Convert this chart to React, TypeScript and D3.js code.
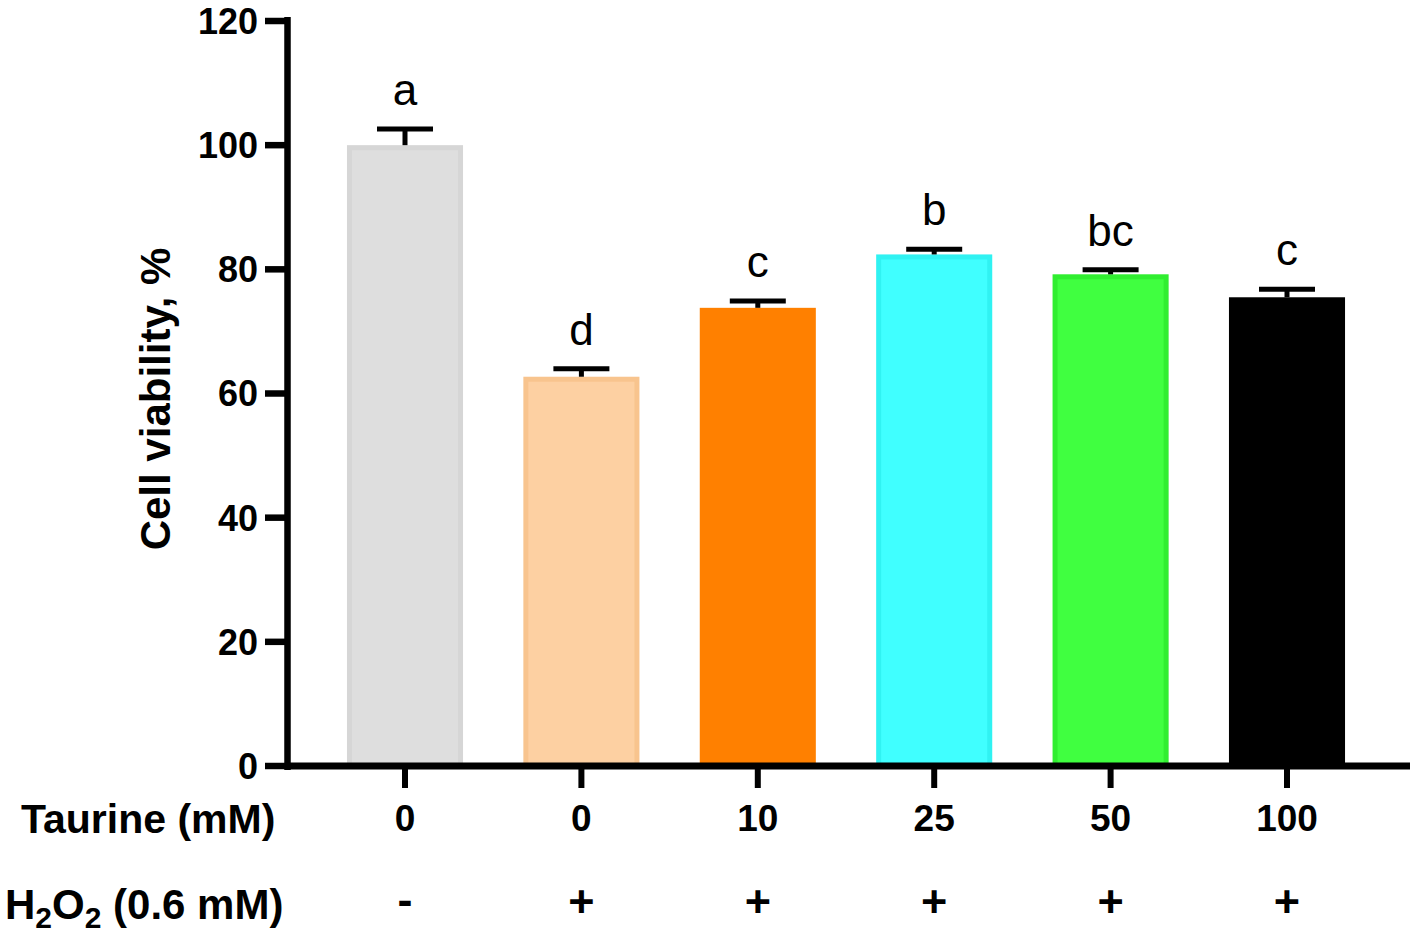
import React from "react";
import * as d3 from "d3";

const categories = ["g1", "g2", "g3", "g4", "g5", "g6"];
const taurineLabels = ["0", "0", "10", "25", "50", "100"];
const h2o2Labels = ["-", "+", "+", "+", "+", "+"];
const means = [100, 62.7, 73.8, 82.4, 79.2, 75.5];
const errors = [2.6, 1.3, 1.1, 0.85, 0.75, 1.3];
const letters = ["a", "d", "c", "b", "bc", "c"];
const fills = ["#dedede", "#fdd0a2", "#ff8000", "#40ffff", "#40ff40", "#000000"];
const strokes = ["#d6d6d6", "#f8c48e", "#ff8000", "#30f2f2", "#30ee30", "#000000"];
const yTicks = [0, 20, 40, 60, 80, 100, 120];

const W = 1417;
const H = 938;
const FONT = "'Liberation Sans', Arial, sans-serif";

export default function App() {
  const y = d3.scaleLinear().domain([0, 120]).range([766, 21]);
  const x = d3
    .scaleBand<string>()
    .domain(categories)
    .range([316.8, 1375.2])
    .paddingInner(0.342)
    .paddingOuter(0.171);
  const bw = x.bandwidth();
  const sw = 5;
  const axisX = 287.5;
  const capW = 56;

  return (
    <div style={{ position: "absolute", left: 0, top: 0 }}>
      <svg width={W} height={H} style={{ display: "block", background: "#fff" }}>
        {/* bars */}
        {categories.map((c, i) => {
          const x0 = x(c)!;
          const yt = y(means[i]);
          return (
            <rect
              key={"b" + c}
              x={x0 + sw / 2}
              y={yt + sw / 2}
              width={bw - sw}
              height={y(0) - yt - sw / 2}
              fill={fills[i]}
              stroke={strokes[i]}
              strokeWidth={sw}
            />
          );
        })}
        {/* error bars */}
        {categories.map((c, i) => {
          const cx = x(c)! + bw / 2;
          const yt = y(means[i]);
          const ye = y(means[i] + errors[i]);
          return (
            <g key={"e" + c}>
              <line x1={cx} x2={cx} y1={yt} y2={ye} stroke="#000" strokeWidth={5} />
              <line x1={cx - capW / 2} x2={cx + capW / 2} y1={ye} y2={ye} stroke="#000" strokeWidth={5} />
              <text
                x={cx}
                y={ye - 24}
                textAnchor="middle"
                fontFamily={FONT}
                fontSize={44}
                fill="#000"
              >
                {letters[i]}
              </text>
            </g>
          );
        })}
        {/* y axis */}
        <line x1={axisX} x2={axisX} y1={y(120) - 4} y2={y(0) + 4} stroke="#000" strokeWidth={6.5} />
        {yTicks.map((t) => (
          <g key={"yt" + t}>
            <line x1={265} x2={axisX} y1={y(t)} y2={y(t)} stroke="#000" strokeWidth={6.5} />
            <text
              x={258}
              y={y(t)}
              dy="0.36em"
              textAnchor="end"
              fontFamily={FONT}
              fontWeight="bold"
              fontSize={36}
              fill="#000"
            >
              {t}
            </text>
          </g>
        ))}
        {/* x axis */}
        <line x1={axisX} x2={1410} y1={y(0)} y2={y(0)} stroke="#000" strokeWidth={7} />
        {categories.map((c, i) => {
          const cx = x(c)! + bw / 2;
          return (
            <g key={"xt" + c}>
              <line x1={cx} x2={cx} y1={y(0)} y2={788} stroke="#000" strokeWidth={6} />
              <text
                x={cx}
                y={831}
                textAnchor="middle"
                fontFamily={FONT}
                fontWeight="bold"
                fontSize={37}
                fill="#000"
              >
                {taurineLabels[i]}
              </text>
              <text
                x={cx}
                y={h2o2Labels[i] === "+" ? 917 : 915}
                textAnchor="middle"
                fontFamily={FONT}
                fontWeight="bold"
                fontSize={45}
                fill="#000"
              >
                {h2o2Labels[i]}
              </text>
            </g>
          );
        })}
        {/* row labels */}
        <text x={21} y={833} fontFamily={FONT} fontWeight="bold" fontSize={41} fill="#000">
          Taurine (mM)
        </text>
        <text x={5} y={919} fontFamily={FONT} fontWeight="bold" fontSize={42} fill="#000">
          H<tspan fontSize={30} dy={9}>2</tspan>
          <tspan dy={-9}>O</tspan>
          <tspan fontSize={30} dy={9}>2</tspan>
          <tspan dy={-9}> (0.6 mM)</tspan>
        </text>
        {/* y label */}
        <text
          transform={`translate(170,399) rotate(-90)`}
          textAnchor="middle"
          fontFamily={FONT}
          fontWeight="bold"
          fontSize={42}
          fill="#000"
        >
          Cell viability, %
        </text>
      </svg>
    </div>
  );
}
